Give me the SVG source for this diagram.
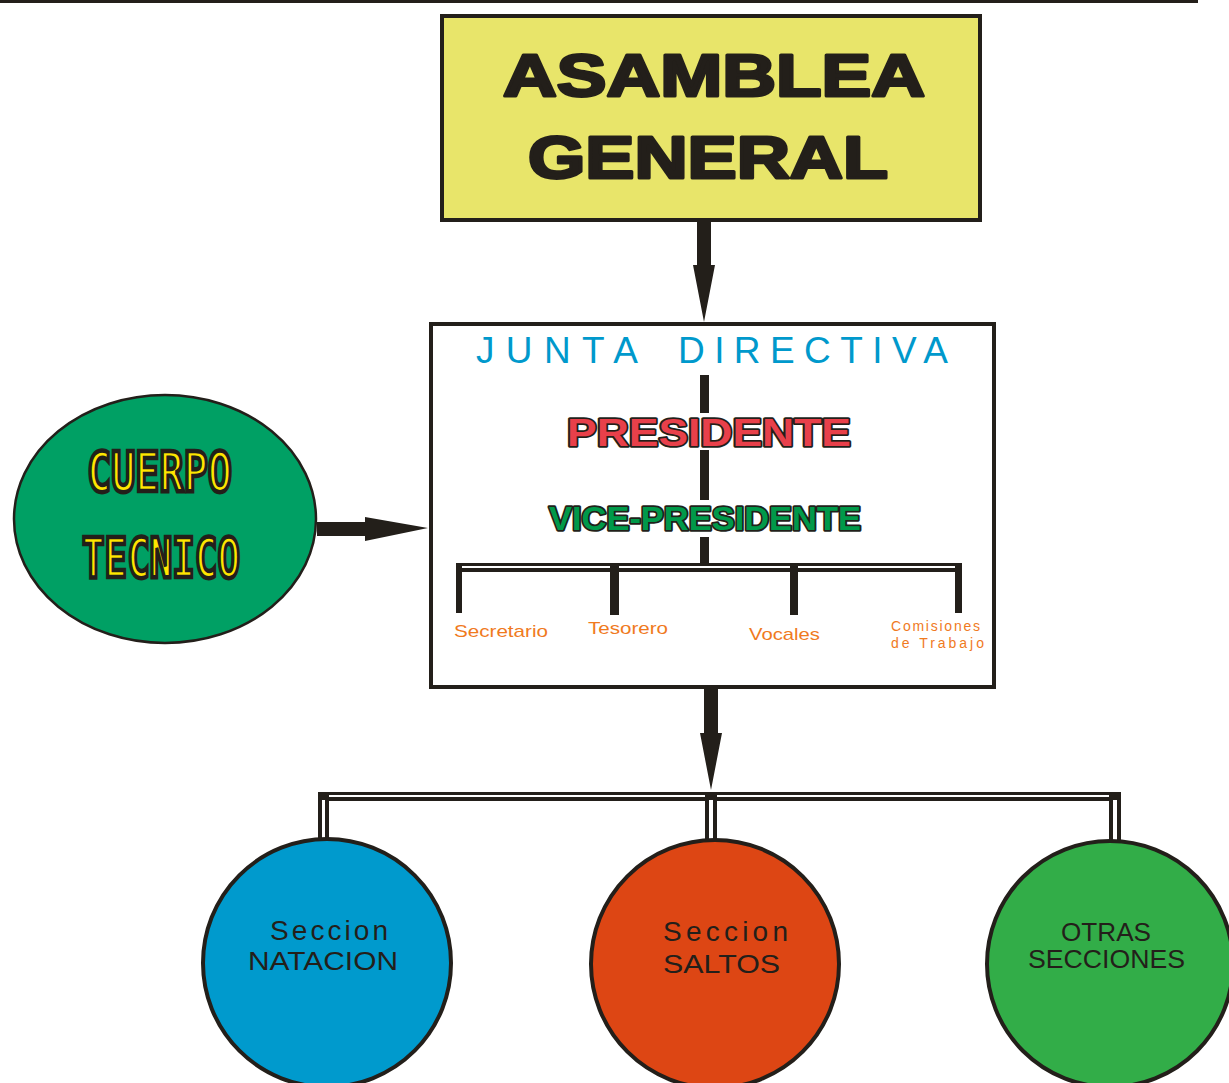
<svg xmlns="http://www.w3.org/2000/svg" width="1229" height="1083" viewBox="0 0 1229 1083">
<style>
.dk{fill:#231F1A}
.box{stroke:#231F1A;stroke-width:4}
.circ{stroke:#231F1A;stroke-width:4}
.sec{font-family:"Liberation Sans",Arial,sans-serif;font-size:25px;fill:#231F1A}
.sc{font-size:28px}
.lbl{font-family:"Liberation Sans",Arial,sans-serif;fill:#F07A1E}
.jd{font-family:"Liberation Sans",Arial,sans-serif;font-size:37px;fill:#0099CC}
.big{font-family:"Liberation Sans",Arial,sans-serif;font-weight:bold;font-size:60px;fill:#231F1A;stroke:#231F1A;stroke-width:3;stroke-linejoin:round}
.dig{font-family:"DejaVu Sans Mono",monospace;font-weight:bold;font-size:56px;fill:#FFE600;stroke:#231F1A;stroke-width:4.5;stroke-linejoin:miter}
.out{font-family:"Liberation Sans",Arial,sans-serif;font-weight:bold;stroke:#231F1A;stroke-width:3.5;paint-order:stroke;stroke-linejoin:round}
</style>
<rect x="0" y="0" width="1198" height="3" class="dk"/>

<g id="connectors">
  <path class="dk" d="M697,220 H711 V265 H715 L704,322 L693,265 H697 Z"/>
  <path class="dk" d="M317,522 H365 V517 L428,528 L365,541 V536 H317 Z"/>
  <path class="dk" d="M704,688 H718 V733 H722 L711,790 L700,733 H704 Z"/>
  <rect x="318" y="792" width="803" height="9" class="dk"/>
  <rect x="329" y="795" width="781" height="2" fill="#fff"/>
  <rect x="318" y="792" width="11" height="49" class="dk"/>
  <rect x="322" y="800" width="3" height="39" fill="#fff"/>
  <rect x="705" y="792" width="12" height="51" class="dk"/>
  <rect x="709" y="800" width="4" height="41" fill="#fff"/>
  <rect x="1109" y="792" width="12" height="50" class="dk"/>
  <rect x="1113" y="800" width="4" height="40" fill="#fff"/>
</g>

<g id="asamblea">
  <rect x="442" y="16" width="538" height="204" fill="#E8E56A" class="box"/>
  <text class="big" x="503" y="96" textLength="422" lengthAdjust="spacingAndGlyphs">ASAMBLEA</text>
  <text class="big" x="528" y="178" textLength="360" lengthAdjust="spacingAndGlyphs">GENERAL</text>
</g>

<g id="junta">
  <rect x="431" y="324" width="563" height="363" fill="#fff" class="box"/>
  <text class="jd" x="476" y="363" textLength="162" lengthAdjust="spacing">JUNTA</text>
  <text class="jd" x="678" y="363" textLength="270" lengthAdjust="spacing">DIRECTIVA</text>
  <rect x="700" y="375" width="9" height="38" class="dk"/>
  <rect x="700" y="450" width="9" height="50" class="dk"/>
  <rect x="700" y="537" width="9" height="27" class="dk"/>
  <text class="out" x="567" y="446" font-size="39" fill="#E8404A" textLength="284" lengthAdjust="spacingAndGlyphs">PRESIDENTE</text>
  <text class="out" x="549" y="530" font-size="34" fill="#00994A" textLength="312" lengthAdjust="spacingAndGlyphs">VICE-PRESIDENTE</text>
  <rect x="456" y="563" width="506" height="9" class="dk"/>
  <rect x="462" y="566" width="494" height="2" fill="#fff"/>
  <rect x="456" y="563" width="6" height="50" class="dk"/>
  <rect x="610" y="566" width="9" height="49" class="dk"/>
  <rect x="790" y="566" width="8" height="49" class="dk"/>
  <rect x="955" y="563" width="7" height="50" class="dk"/>
  <text class="lbl" x="454" y="637" font-size="17" textLength="94" lengthAdjust="spacingAndGlyphs">Secretario</text>
  <text class="lbl" x="588" y="634" font-size="17" textLength="80" lengthAdjust="spacingAndGlyphs">Tesorero</text>
  <text class="lbl" x="749" y="640" font-size="17" textLength="71" lengthAdjust="spacingAndGlyphs">Vocales</text>
  <text class="lbl" x="891" y="631" font-size="14" textLength="89" lengthAdjust="spacing">Comisiones</text>
  <text class="lbl" x="891" y="648" font-size="14" textLength="93" lengthAdjust="spacing">de Trabajo</text>
</g>

<g id="cuerpo-tecnico">
  <ellipse cx="165" cy="519" rx="151" ry="124" fill="#00A064" stroke="#231F1A" stroke-width="2.5"/>
  <text class="dig" x="87" y="491" textLength="145" lengthAdjust="spacingAndGlyphs">CUERPO</text>
  <text class="dig" x="82" y="577" textLength="158" lengthAdjust="spacingAndGlyphs">TECNICO</text>
</g>

<g id="natacion">
  <circle cx="327" cy="963" r="124" fill="#009ACD" class="circ"/>
  <text class="sec sc" x="270" y="940" textLength="118" lengthAdjust="spacing">Seccion</text>
  <text class="sec" x="248" y="970" textLength="150" lengthAdjust="spacingAndGlyphs">NATACION</text>
</g>

<g id="saltos">
  <circle cx="715" cy="964" r="124" fill="#DD4614" class="circ"/>
  <text class="sec sc" x="663" y="941" textLength="125" lengthAdjust="spacing">Seccion</text>
  <text class="sec" x="663" y="973" textLength="117" lengthAdjust="spacingAndGlyphs">SALTOS</text>
</g>

<g id="otras">
  <circle cx="1110" cy="964" r="123" fill="#32AD48" class="circ"/>
  <text class="sec" x="1061" y="941" textLength="90" lengthAdjust="spacingAndGlyphs">OTRAS</text>
  <text class="sec" x="1028" y="968" textLength="157" lengthAdjust="spacingAndGlyphs">SECCIONES</text>
</g>
</svg>
